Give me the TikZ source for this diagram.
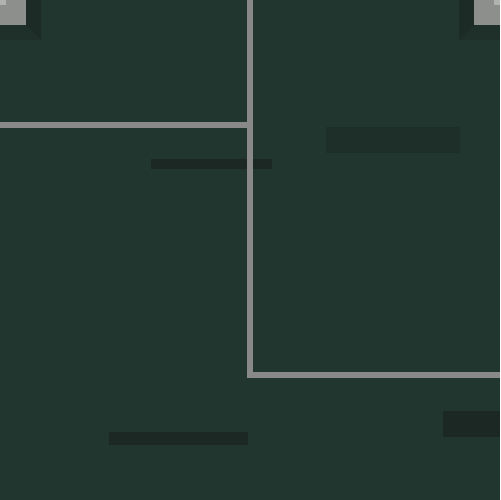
\documentclass[tikz,border=0pt]{standalone}
\usepackage{xcolor}
\usepackage{tikz}
\usetikzlibrary{positioning}

\definecolor{floorgreen}{RGB}{34,54,48}
\definecolor{wallgray}{RGB}{136,137,136}
\definecolor{blockgray}{RGB}{140,143,140}
\definecolor{blocklight}{RGB}{176,179,176}
\definecolor{shadowa}{RGB}{28,43,38}
\definecolor{shadowb}{RGB}{31,47,42}
\definecolor{matdark}{RGB}{27,40,35}
\definecolor{matmid}{RGB}{30,46,40}

\tikzset{
  wall/.style={draw=wallgray, line width=0.12cm, line join=miter},
  mat/.style={fill=matdark},
}

\begin{document}
\begin{tikzpicture}[x=0.02cm,y=-0.02cm]

			% Floor
			\fill[floorgreen] (0,0) rectangle (500,500);
			\useasboundingbox (0,0) rectangle (500,500);

			% Top left block
			\fill[shadowb] (0,0) rectangle (41,40);
			\fill[shadowa] (26,0) -- (41,0) -- (41,40) -- (26,25) -- cycle;
			\fill[blockgray] (0,0) rectangle (26,25);
			\fill[blocklight] (0,0) rectangle (6,5);

			% Top right block
			\fill[shadowb] (459,0) rectangle (500,40);
			\fill[shadowa] (459,0) -- (474,0) -- (474,25) -- (459,40) -- cycle;
			\fill[blockgray] (474,0) rectangle (500,25);
			\fill[blocklight] (494,0) rectangle (500,5);

			% Dark mats
			\fill[mat] (151,159) rectangle (272,169);
			\fill[matmid] (326,127) rectangle (460,153);
			\fill[mat] (109,432) rectangle (248,445);
			\fill[mat] (443,411) rectangle (500,437);

			% Walls
			\draw[wall] (0,125) -- (249.5,125);
			\draw[wall] (249.5,0) -- (249.5,375) -- (500,375);

		\end{tikzpicture}
\end{document}
